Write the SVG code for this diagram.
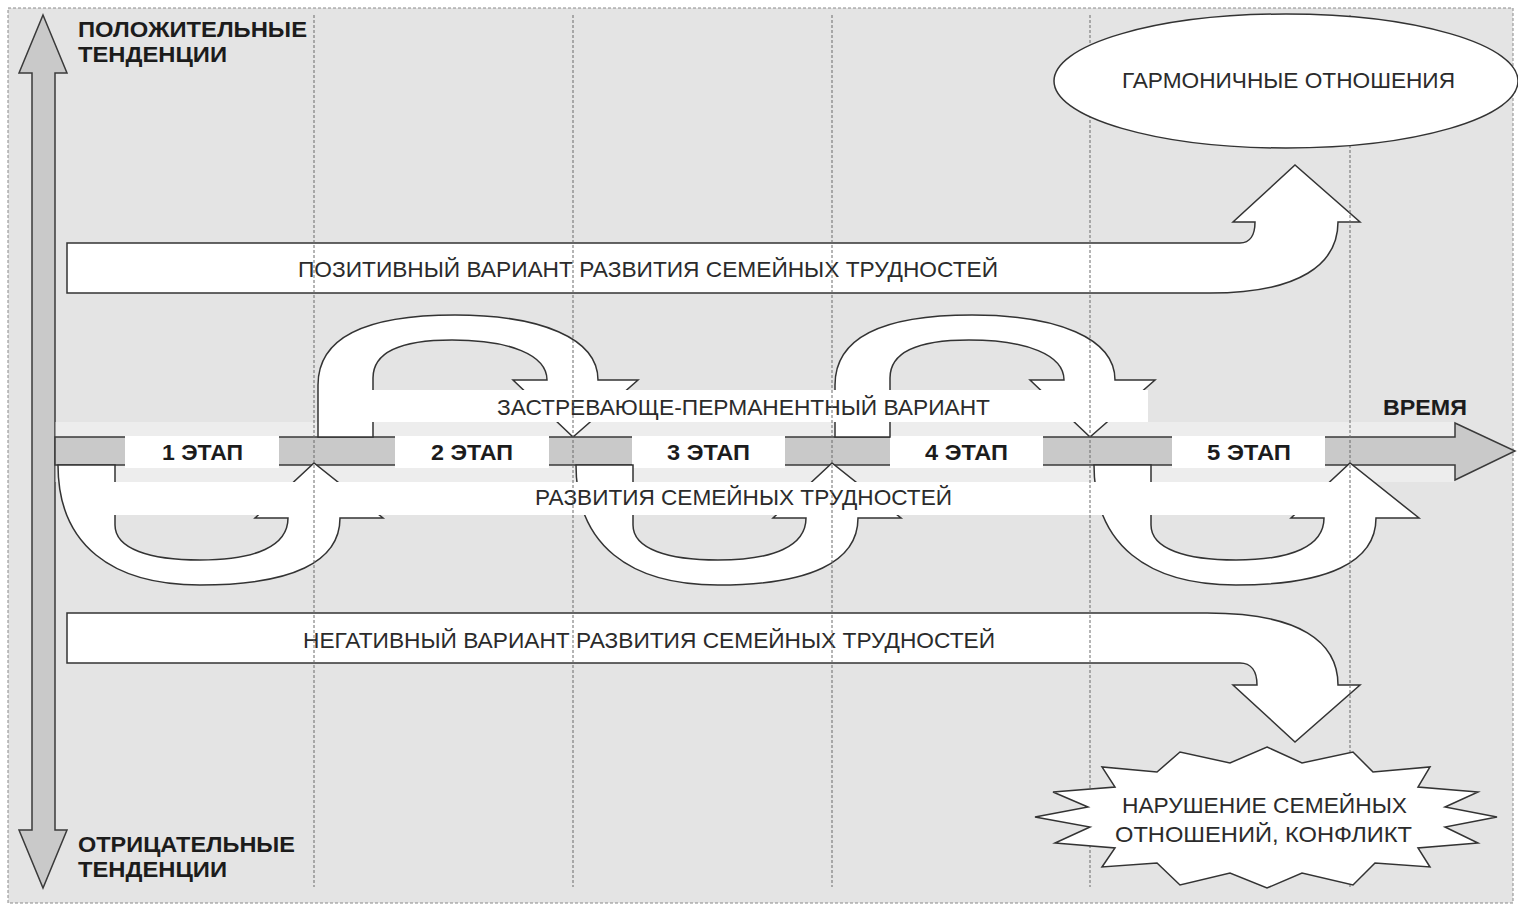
<svg xmlns="http://www.w3.org/2000/svg" width="1518" height="909" viewBox="0 0 1518 909">
<defs>
<style>
.bg{fill:#e4e4e4;stroke:#8a8a8a;stroke-width:1;stroke-dasharray:3 2}
.grid{stroke:#6a6a6a;stroke-width:1;stroke-dasharray:3 2;fill:none}
.shape{fill:#ffffff;stroke:#333333;stroke-width:1.5;stroke-linejoin:miter}
.band{fill:#ffffff}
.gray{fill:#c9c9c9;stroke:#3a3a3a;stroke-width:1.5}
.strip{fill:#ffffff;opacity:0.35}
.t{font-family:"Liberation Sans",Arial,sans-serif;font-size:22px;fill:#2b2b2b}
.b{font-family:"Liberation Sans",Arial,sans-serif;font-size:22px;font-weight:bold;fill:#1c1c1c}
</style>
</defs>

<rect class="bg" x="8" y="8" width="1505" height="895"/>

<g id="axis-vertical">
<path class="gray" d="M43,15 L67,73 L55,73 L55,830 L67,830 L43,888 L19,830 L32,830 L32,73 L19,73 Z"/>
<text class="b" x="78" y="37" textLength="229" lengthAdjust="spacingAndGlyphs">ПОЛОЖИТЕЛЬНЫЕ</text>
<text class="b" x="78" y="62" textLength="149" lengthAdjust="spacingAndGlyphs">ТЕНДЕНЦИИ</text>
<text class="b" x="78" y="852" textLength="217" lengthAdjust="spacingAndGlyphs">ОТРИЦАТЕЛЬНЫЕ</text>
<text class="b" x="78" y="877" textLength="149" lengthAdjust="spacingAndGlyphs">ТЕНДЕНЦИИ</text>
</g>

<rect class="strip" x="55" y="422" width="1400" height="15"/>
<rect class="strip" x="55" y="465" width="1400" height="17"/>

<g id="timeline">
<path class="gray" d="M55,437 L1455,437 L1455,423 L1515,451 L1455,480 L1455,465 L55,465 Z"/>
<text class="b" x="1383" y="415" textLength="84" lengthAdjust="spacingAndGlyphs">ВРЕМЯ</text>
</g>

<g id="stage1"><rect class="band" x="125" y="436" width="154" height="32"/><text class="b" x="162" y="460" textLength="81" lengthAdjust="spacingAndGlyphs">1 ЭТАП</text></g>
<g id="stage2"><rect class="band" x="395" y="436" width="154" height="32"/><text class="b" x="431" y="460" textLength="82" lengthAdjust="spacingAndGlyphs">2 ЭТАП</text></g>
<g id="stage3"><rect class="band" x="632" y="436" width="153" height="32"/><text class="b" x="667" y="460" textLength="83" lengthAdjust="spacingAndGlyphs">3 ЭТАП</text></g>
<g id="stage4"><rect class="band" x="890" y="436" width="153" height="32"/><text class="b" x="925" y="460" textLength="83" lengthAdjust="spacingAndGlyphs">4 ЭТАП</text></g>
<g id="stage5"><rect class="band" x="1172" y="436" width="153" height="32"/><text class="b" x="1207" y="460" textLength="84" lengthAdjust="spacingAndGlyphs">5 ЭТАП</text></g>

<g id="connectors">
<path id="upper-loop-2" class="shape" d="M318,437 L318,385 C318,335 370,315 455,315 C540,315 598,338 598,380 L638,380 L573,437 L513,380 L547,380 C547,355 510,340 452,340 C400,340 373,352 373,378 L373,437 Z"/>
<path id="upper-loop-4" class="shape" transform="translate(517,0)" d="M318,437 L318,385 C318,335 370,315 455,315 C540,315 598,338 598,380 L638,380 L573,437 L513,380 L547,380 C547,355 510,340 452,340 C400,340 373,352 373,378 L373,437 Z"/>
<path id="lower-loop-1" class="shape" d="M58,465 L115,465 L115,525 C115,549 150,560 200,560 C256,560 288,546 288,518 L255,518 L314,463 L383,518 L340,518 C340,562 292,585 200,585 C112,585 58,545 58,465 Z"/>
<path id="lower-loop-3" class="shape" transform="translate(518,0)" d="M58,465 L115,465 L115,525 C115,549 150,560 200,560 C256,560 288,546 288,518 L255,518 L314,463 L383,518 L340,518 C340,562 292,585 200,585 C112,585 58,545 58,465 Z"/>
<path id="lower-loop-5" class="shape" transform="translate(1036,0)" d="M58,465 L115,465 L115,525 C115,549 150,560 200,560 C256,560 288,546 288,518 L255,518 L314,463 L383,518 L340,518 C340,562 292,585 200,585 C112,585 58,545 58,465 Z"/>
</g>

<g id="stuck-variant">
<rect class="band" x="360" y="390" width="788" height="32"/>
<text class="t" x="497" y="415" textLength="493" lengthAdjust="spacingAndGlyphs">ЗАСТРЕВАЮЩЕ-ПЕРМАНЕНТНЫЙ ВАРИАНТ</text>
</g>
<g id="development">
<rect class="band" x="90" y="482" width="1262" height="33"/>
<text class="t" x="535" y="505" textLength="417" lengthAdjust="spacingAndGlyphs">РАЗВИТИЯ СЕМЕЙНЫХ ТРУДНОСТЕЙ</text>
</g>

<g id="positive">
<path class="shape" d="M67,243 L1240,243 C1250,243 1255,235 1255,222 L1233,222 L1295,165 L1360,222 L1338,222 C1338,264 1300,293 1210,293 L67,293 Z"/>
<text class="t" x="298" y="277" textLength="700" lengthAdjust="spacingAndGlyphs">ПОЗИТИВНЫЙ ВАРИАНТ РАЗВИТИЯ СЕМЕЙНЫХ ТРУДНОСТЕЙ</text>
</g>
<g id="negative">
<path class="shape" d="M67,613 L1207,613 C1300,613 1338,642 1338,685 L1360,685 L1295,742 L1233,685 L1257,685 C1257,671 1251,663 1240,663 L67,663 Z"/>
<text class="t" x="303" y="648" textLength="692" lengthAdjust="spacingAndGlyphs">НЕГАТИВНЫЙ ВАРИАНТ РАЗВИТИЯ СЕМЕЙНЫХ ТРУДНОСТЕЙ</text>
</g>

<g id="grid">
<line class="grid" x1="314" y1="15" x2="314" y2="887"/>
<line class="grid" x1="573" y1="15" x2="573" y2="887"/>
<line class="grid" x1="832" y1="15" x2="832" y2="887"/>
<line class="grid" x1="1090" y1="15" x2="1090" y2="887"/>
<line class="grid" x1="1350" y1="15" x2="1350" y2="887"/>
</g>

<g id="harmony">
<ellipse class="shape" cx="1286" cy="81" rx="232" ry="67"/>
<text class="t" x="1122" y="88" textLength="333" lengthAdjust="spacingAndGlyphs">ГАРМОНИЧНЫЕ ОТНОШЕНИЯ</text>
</g>
<g id="conflict">
<polygon class="shape" points="1267,747 1302,763 1353,752 1373,772 1430,767 1418,787 1478,792 1445,807 1497,817 1445,827 1478,843 1418,848 1430,867 1375,863 1353,885 1302,873 1267,888 1230,873 1180,885 1157,863 1102,867 1115,848 1055,843 1090,827 1035,817 1088,807 1053,792 1115,787 1102,767 1157,772 1180,752 1230,763"/>
<text class="t" x="1122" y="813" textLength="285" lengthAdjust="spacingAndGlyphs">НАРУШЕНИЕ СЕМЕЙНЫХ</text>
<text class="t" x="1115" y="842" textLength="297" lengthAdjust="spacingAndGlyphs">ОТНОШЕНИЙ, КОНФЛИКТ</text>
</g>
</svg>
